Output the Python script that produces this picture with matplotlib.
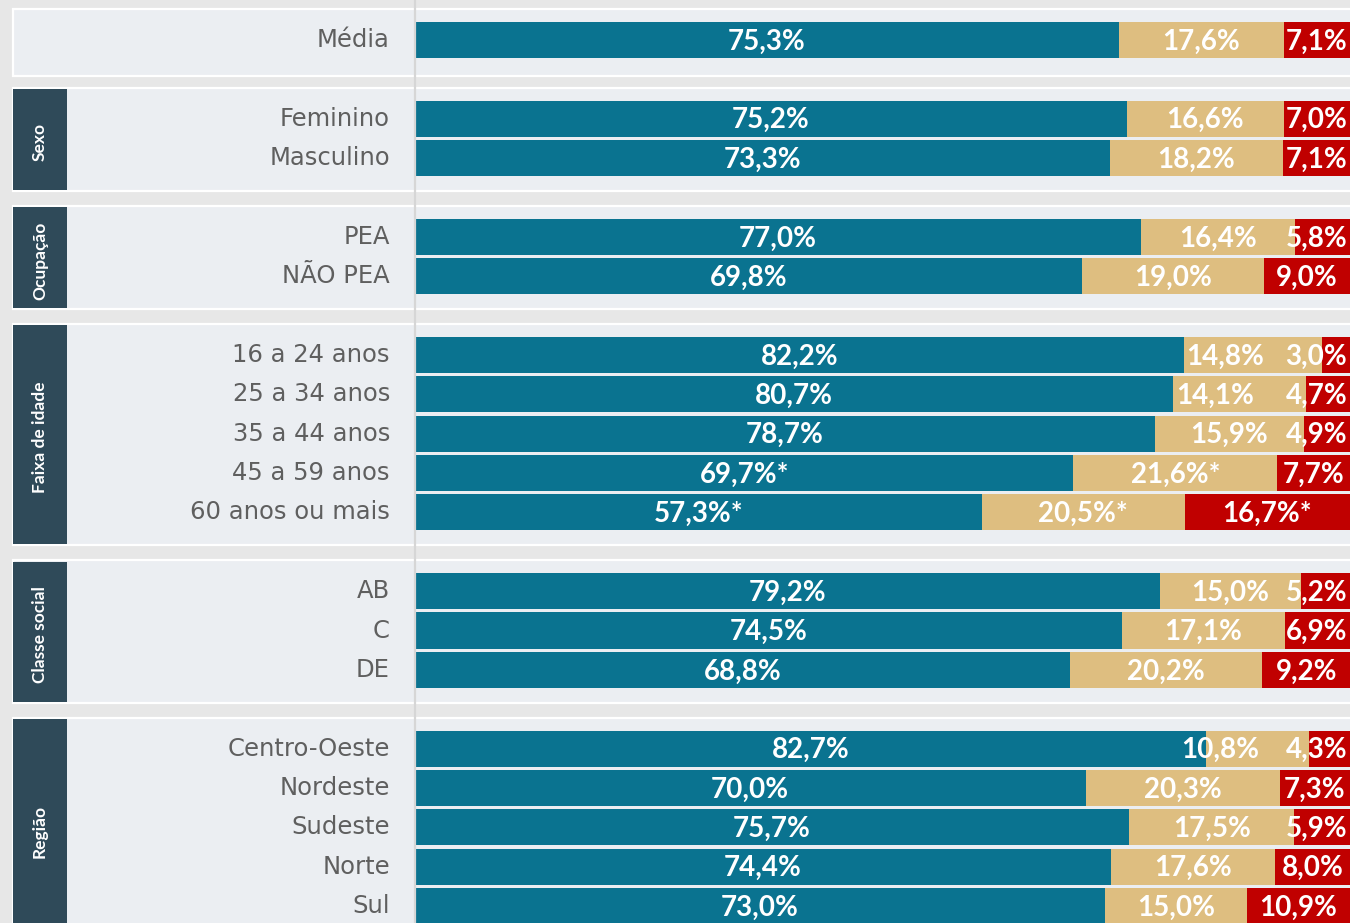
import matplotlib
matplotlib.use('Agg')
import matplotlib.pyplot as plt
import matplotlib.transforms as mtransforms
from matplotlib.patches import Rectangle
import numpy as np

# Data (percent: positive / neutral / negative)
groups = [None, 'Sexo', 'Ocupação', 'Faixa de idade', 'Classe social', 'Região']
categories = [
    ['Média'],
    ['Feminino', 'Masculino'],
    ['PEA', 'NÃO PEA'],
    ['16 a 24 anos', '25 a 34 anos', '35 a 44 anos', '45 a 59 anos', '60 anos ou mais'],
    ['AB', 'C', 'DE'],
    ['Centro-Oeste', 'Nordeste', 'Sudeste', 'Norte', 'Sul'],
]
serie_a = [75.3, 75.2, 73.3, 77.0, 69.8, 82.2, 80.7, 78.7, 69.7, 57.3,
           79.2, 74.5, 68.8, 82.7, 70.0, 75.7, 74.4, 73.0]
serie_b = [17.6, 16.6, 18.2, 16.4, 19.0, 14.8, 14.1, 15.9, 21.6, 20.5,
           15.0, 17.1, 20.2, 10.8, 20.3, 17.5, 17.6, 15.0]
serie_c = [7.1, 7.0, 7.1, 5.8, 9.0, 3.0, 4.7, 4.9, 7.7, 16.7,
           5.2, 6.9, 9.2, 4.3, 7.3, 5.9, 8.0, 10.9]
# rows whose values are flagged with an asterisk (a, b, c)
flags = {8: (True, True, False), 9: (True, True, True)}

colors = ['#0A7390', '#DEBE80', '#C00000']
bg = '#E7E7E7'
panel_fill = '#EBEEF2'
dark = '#2F4A59'

W, H = 1350, 923
fig = plt.figure(figsize=(W / 100, H / 100), dpi=100, facecolor=bg)
ax = fig.add_axes([415 / W, 0, 935 / W, 1])
ax.patch.set_visible(False)
ax.set_xlim(0, 100)
ax.set_ylim(22.43, -1.016)
for s in ['top', 'right', 'bottom']:
    ax.spines[s].set_visible(False)
ax.spines['left'].set_color('#D6D6D6')
ax.spines['left'].set_linewidth(1.6)
ax.spines['left'].set_zorder(3)
ax.set_xticks([])
ax.set_yticks([])

blend = mtransforms.blended_transform_factory(fig.transFigure, ax.transData)

# slot positions: one empty slot between groups
slots = []
group_slots = []
s = 0
for cats in categories:
    gs = []
    for c in cats:
        gs.append(s)
        slots.append(s)
        s += 1
    group_slots.append(gs)
    s += 1
slots = np.array(slots, dtype=float)

# panels
for g, gs in zip(groups, group_slots):
    y0 = gs[0] - 0.78
    y1 = gs[-1] + (0.92 if g is None else 0.84)
    ax.add_patch(Rectangle((13 / W, y0), 1.0, y1 - y0, transform=blend,
                           facecolor=panel_fill, edgecolor='white', lw=1.6,
                           zorder=0.5, clip_on=False))
    if g is not None:
        ax.add_patch(Rectangle((13 / W, y0 + 0.03), 54 / W, y1 - y0 - 0.06,
                               transform=blend, facecolor=dark, edgecolor='none',
                               zorder=1, clip_on=False))
        ax.text(40 / W, (gs[0] + gs[-1]) / 2 + 0.1, g, transform=blend,
                rotation=90, ha='center', va='center', color='white',
                fontsize=12.5, fontweight='bold', family=['Lato', 'DejaVu Sans'],
                clip_on=False)

# category labels
all_cats = [c for cats in categories for c in cats]
for y, c in zip(slots, all_cats):
    ax.text(390 / W, y, c, transform=blend, ha='right', va='center',
            color='#5F5F5F', fontsize=17.5, family=['DejaVu Sans'],
            clip_on=False)

# bars, normalised to 100%
vals = np.array([serie_a, serie_b, serie_c])
totals = vals.sum(axis=0)
norm = vals / totals * 100
lefts = np.vstack([np.zeros(len(slots)), np.cumsum(norm, axis=0)[:-1]])
bar_h = 0.915
for k in range(3):
    ax.barh(slots, norm[k], left=lefts[k], height=bar_h, color=colors[k],
            edgecolor='none', zorder=2)

# value labels
fig.canvas.draw()
renderer = fig.canvas.get_renderer()
px = ax.bbox.width / 100.0


def fmt(v, star):
    return f'{v:.1f}'.replace('.', ',') + '%' + ('*' if star else '')


for i, y in enumerate(slots):
    fl = flags.get(i, (False, False, False))
    texts = []
    for k in range(3):
        t = ax.text(lefts[k][i] + norm[k][i] / 2, y + 0.04, fmt(vals[k][i], fl[k]),
                    ha='center', va='center', color='white', fontsize=20,
                    fontweight='bold', family=['Lato', 'DejaVu Sans'], zorder=4)
        texts.append(t)
    wid = [t.get_window_extent(renderer).width / px for t in texts]
    # red label: keep inside the right edge
    cx_c = lefts[2][i] + norm[2][i] / 2
    if cx_c + wid[2] / 2 > 100 - 0.3:
        cx_c = 100 - 0.3 - wid[2] / 2
    texts[2].set_x(cx_c)
    red_left = cx_c - wid[2] / 2
    # tan label: avoid the red one
    cx_b = lefts[1][i] + norm[1][i] / 2
    if cx_b + wid[1] / 2 > red_left - 0.9:
        cx_b = lefts[1][i] + 0.3 + wid[1] / 2
        if cx_b + wid[1] / 2 > red_left - 0.4:
            cx_b = red_left - 2.8 - wid[1] / 2
    texts[1].set_x(cx_b)

fig.savefig('out.png', dpi=100, facecolor=bg)
